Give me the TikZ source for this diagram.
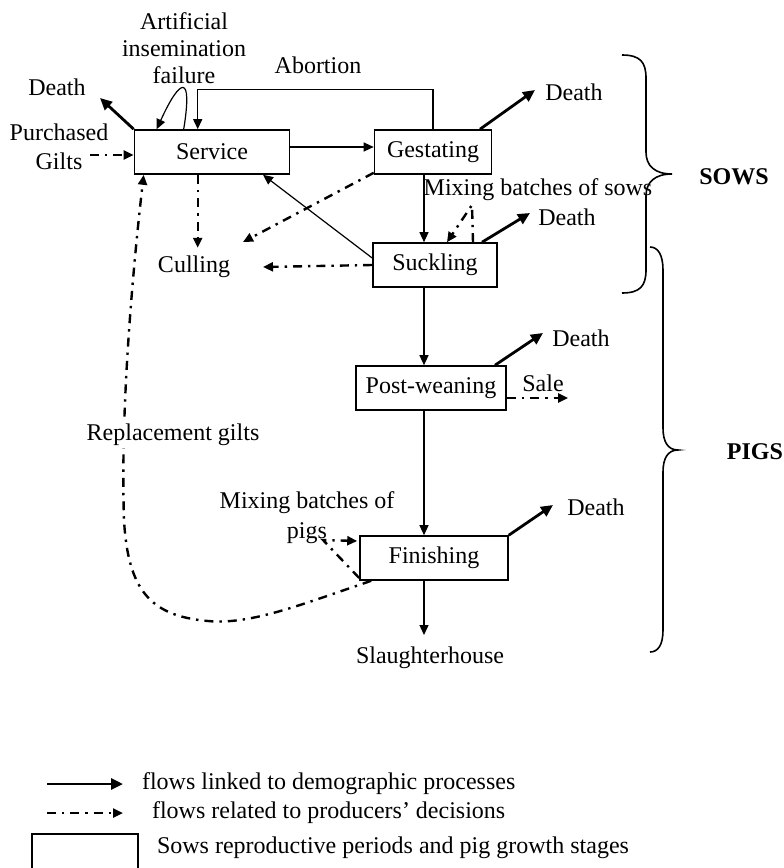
\documentclass[tikz,border=0pt]{standalone}
\usepackage{fontspec}
\setmainfont{Liberation Serif}
\usetikzlibrary{arrows.meta}

\begin{document}
\begin{tikzpicture}[x=0.5pt,y=-0.5pt,>={Triangle[length=5pt,width=4.5pt]},
  font=\fontsize{12}{13.5}\selectfont,
  stage/.style={draw,line width=0.8pt,minimum height=22pt,inner sep=0pt},
  demo/.style={line width=0.6pt,->},
  death/.style={line width=1.4pt,-{Triangle[length=6pt,width=5.5pt]}},
  decis/.style={line width=1.2pt,dash pattern=on 4.5pt off 3pt on 1.2pt off 3pt,->},
  brace/.style={line width=0.8pt}]
\useasboundingbox (0,0) rectangle (783,868);

\node[stage,minimum width=77.5pt] (serv) at (212,152) {Service};
\node[stage,minimum width=58.5pt] (gest) at (433,152) {Gestating};
\node[stage,minimum width=62pt] (suck) at (435,265) {Suckling};
\node[stage,minimum width=75pt] (postw) at (431,388) {Post-weaning};
\node[stage,minimum width=74pt] (fin) at (434,558) {Finishing};

\node[align=center] (ai) at (184,48) {Artificial\\insemination\\failure};
\node (abort) at (318,65) {Abortion};
\node (d1) at (57,87) {Death};
\node[align=center] (buy) at (59,147) {Purchased\\[1pt]Gilts};
\node (d2) at (574,92) {Death};
\node (cull) at (194,267) {Culling};
\node (mixs) at (538,190) {Mixing batches of sows};
\node (d3) at (567,217) {Death};
\node (d4) at (581,338) {Death};
\node (sale) at (543,383) {Sale};
\node (d5) at (596,507) {Death};
\node[align=center] (mixp) at (307,518) {Mixing batches of\\[1.5pt]pigs};
\node (slau) at (430,658) {Slaughterhouse};
\node (sows) at (734,177) {\textbf{SOWS}};
\node (pigs) at (755,452) {\textbf{PIGS}};

\coordinate (col) at (424,0);
\coordinate (d1end) at (100,98);
\coordinate (d2end) at (535,90);
\coordinate (d3end) at (530,213);
\coordinate (d4end) at (543,333);
\coordinate (d5end) at (553,505);
\coordinate (buyend) at (90,155);
\coordinate (cullA) at (243,242);
\coordinate (cullB) at (263,267);
\coordinate (saleend) at (568,398);
\coordinate (slauend) at (424,635);
\coordinate (ms) at (472,205);
\coordinate (mp) at (323,540);

% demographic flows
\draw[demo] ([yshift=2.5pt]serv.east) -- ([yshift=2.5pt]gest.west);
\draw[demo] (gest.north) -- ++(0,-40) -| ([xshift=32pt]serv.north west);
\draw[demo] ([xshift=25pt]serv.north west) .. controls (193,72) and (180,78) .. ([xshift=11.5pt]serv.north west);
\draw[demo] (col |- gest.south) -- (col |- suck.north);
\draw[demo] ([yshift=3.5pt]suck.west) -- ([xshift=25.5pt]serv.south);
\draw[demo] (col |- suck.south) -- (col |- postw.north);
\draw[demo] (col |- postw.south) -- (col |- fin.north);
\draw[demo] (col |- fin.south) -- (slauend);

\draw[death] (serv.north west) -- (d1end);
\draw[death] ([xshift=23.5pt]gest.north) -- (d2end);
\draw[death] ([xshift=23.5pt]suck.north) -- (d3end);
\draw[death] ([xshift=32pt]postw.north) -- (d4end);
\draw[death] (fin.north east) -- (d5end);

% producers' decisions
\draw[decis] (buyend) -- ([yshift=-1.5pt]serv.west);
\draw[decis] ([xshift=32pt]serv.south west) -- ++(0,73);
\draw[decis] ([yshift=1pt]gest.south west) -- (cullA);
\draw[decis] (suck.west) -- (cullB);
\draw[decis] ([xshift=19pt]suck.north) -- (ms) -- ([xshift=6pt]suck.north);
\draw[decis] ([yshift=-5pt]postw.east) -- (saleend);
\draw[decis] ([yshift=-10pt]fin.west) -- (mp) -- ([yshift=8.5pt,xshift=-1pt]fin.west);
\draw[decis] ([xshift=6pt]fin.south west) .. controls (300,605) and (250,625) .. (208,621)
  .. controls (150,616) and (128,590) .. (124,520)
  .. controls (120,400) and (135,250) .. ([xshift=5pt]serv.south west);
\node[fill=white,inner sep=1pt] (repl) at (173,435) {Replacement gilts};

% braces
\draw[brace] (622,55) .. controls (640,55) and (646,62) .. (646,78) -- (646,152)
  .. controls (646,166) and (655,174) .. (672,174) .. controls (655,174) and (646,182) .. (646,196)
  -- (646,270) .. controls (646,286) and (640,293) .. (622,293);
\draw[brace] (650,247) .. controls (658,247) and (663,255) .. (663,270) -- (663,428)
  .. controls (663,442) and (668,450) .. (678,450) .. controls (668,450) and (663,458) .. (663,472)
  -- (663,630) .. controls (663,645) and (658,652) .. (650,652);

% key
\node[anchor=west] (k1) at (135,784) {flows linked to demographic processes};
\node[anchor=west] (k2) at (145,813) {flows related to producers' decisions};
\node[anchor=west] (k3) at (150,848) {Sows reproductive periods and pig growth stages};
\node[stage,minimum width=53pt,minimum height=25pt,anchor=north] (kbox) at (85,833) {};
\draw[death] ([xshift=-44pt]k1.west) -- ([xshift=-6pt]k1.west);
\draw[decis] ([xshift=-49pt]k2.west) -- ([xshift=-11pt]k2.west);
\end{tikzpicture}
\end{document}
